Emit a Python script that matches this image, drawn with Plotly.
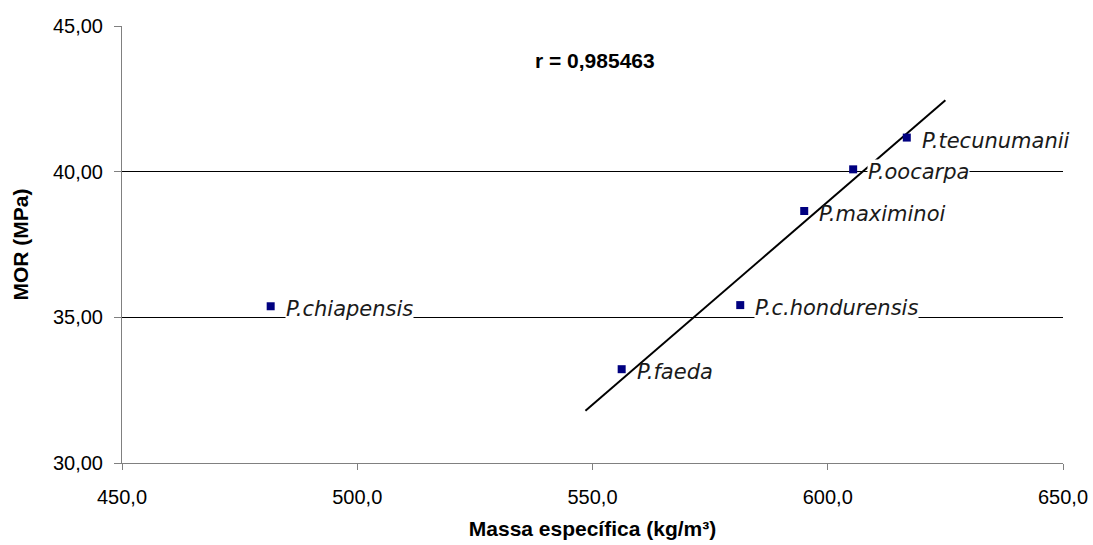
import numpy as np
import plotly.graph_objects as go

# ---- data ----
species = ["P.chiapensis", "P.faeda", "P.c.hondurensis", "P.maximinoi", "P.oocarpa", "P.tecunumanii"]
massa = [481.6, 556.2, 581.4, 595.0, 605.4, 616.8]          # kg/m³
mor = [35.38, 33.22, 35.42, 38.65, 40.08, 41.17]              # MPa
label_bg = [True, False, True, False, True, False]            # label masks gridline
trend_species = ["P.faeda", "P.c.hondurensis", "P.maximinoi", "P.oocarpa", "P.tecunumanii"]
trend_range = [548.5, 625.0]
r_text = "r = 0,985463"
x_ticks = [450, 500, 550, 600, 650]
y_ticks = [30, 35, 40, 45]

FONT = "Liberation Sans, Arial, sans-serif"
LABEL_FONT = "DejaVu Sans, sans-serif"

# trend line (linear regression on the selected species)
tx = np.array([massa[species.index(s)] for s in trend_species])
ty = np.array([mor[species.index(s)] for s in trend_species])
slope, intercept = np.polyfit(tx, ty, 1)
line_x = np.array(trend_range)
line_y = slope * line_x + intercept

fig = go.Figure()
fig.add_trace(go.Scatter(x=line_x, y=line_y, mode="lines",
                         line=dict(color="black", width=2), hoverinfo="skip",
                         showlegend=False))
fig.add_trace(go.Scatter(x=massa, y=mor, mode="markers",
                         marker=dict(symbol="square", size=8, color="#000080"),
                         showlegend=False))

for s, xv, yv, bg in zip(species, massa, mor, label_bg):
    fig.add_annotation(x=xv, y=yv, xref="x", yref="y", text=s, showarrow=False,
                       xanchor="left", yanchor="middle", xshift=14, yshift=-3,
                       font=dict(family=LABEL_FONT, size=21, color="#1a1a1a", style="italic"),
                       bgcolor="white" if bg else None, borderpad=0)

fig.add_annotation(x=0.503, y=0.922, xref="paper", yref="paper", text="<b>" + r_text + "</b>",
                   showarrow=False, xanchor="center", yanchor="middle",
                   font=dict(family=FONT, size=21, color="black"))

fig.update_layout(
    width=1093, height=545,
    margin=dict(l=122, r=30, t=26, b=82, autoexpand=False),
    paper_bgcolor="white", plot_bgcolor="white",
    separators=",.",
    font=dict(family=FONT, size=20, color="black"),
    xaxis=dict(range=[450, 650], tickvals=x_ticks, tickformat=".1f",
               showgrid=False, zeroline=False, automargin=False,
               showline=True, linecolor="#808080", linewidth=1,
               ticks="outside", ticklen=6, tickcolor="#808080",
               ticklabelstandoff=10, ticklabeloverflow="allow",
               tickfont=dict(size=20),
               title=dict(text="<b>Massa específica (kg/m³)</b>", font=dict(size=21), standoff=14)),
    yaxis=dict(range=[30, 45], tickvals=y_ticks, tickformat=".2f",
               showgrid=True, gridcolor="black", gridwidth=1, zeroline=False,
               automargin=False,
               showline=True, linecolor="#808080", linewidth=1,
               ticks="outside", ticklen=7, tickcolor="#808080",
               ticklabelstandoff=7, ticklabeloverflow="allow",
               tickfont=dict(size=20),
               title=dict(text="<b>MOR (MPa)</b>", font=dict(size=21), standoff=18)),
)

fig.write_html("out.html")
